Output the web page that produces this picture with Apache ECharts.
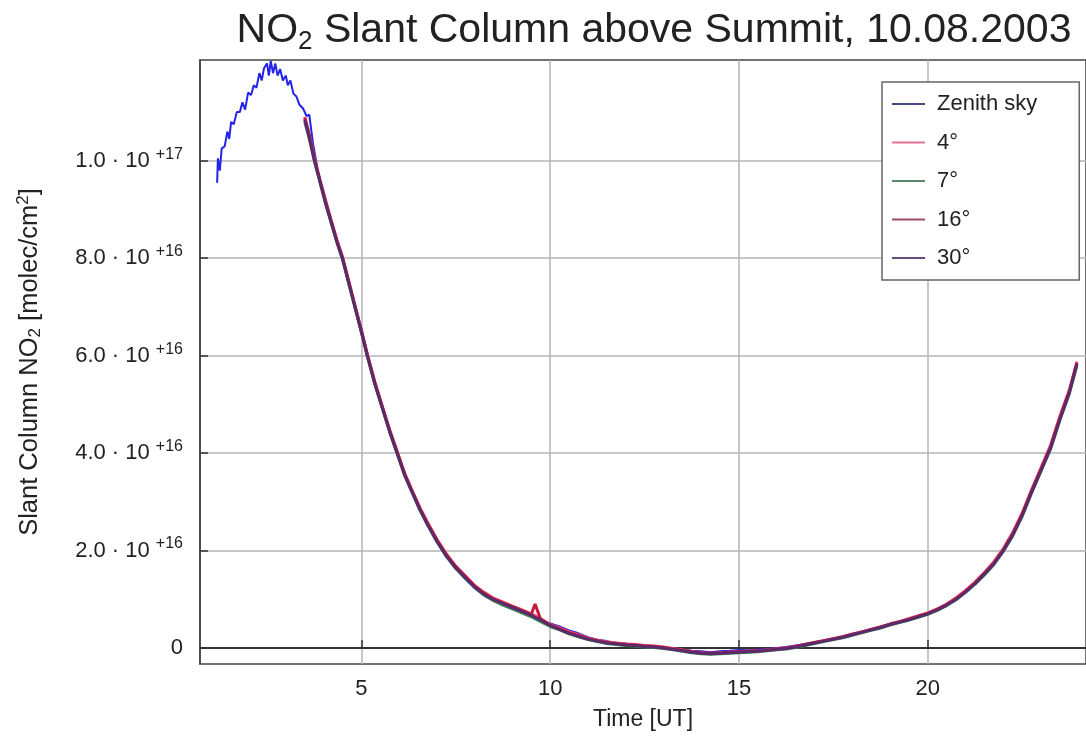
<!DOCTYPE html>
<html>
<head>
<meta charset="utf-8">
<script src="https://cdn.jsdelivr.net/npm/echarts@6/dist/echarts.min.js"></script>
<style>html,body{margin:0;padding:0;background:#fff}#c{width:1086px;height:739px}</style>
</head>
<body>
<div id="c"></div>
<script>
// values in units of 1e16 molec/cm2, time in hours UT
const seriesNames = ['Zenith sky', '4°', '7°', '16°', '30°'];
const xTicks = [5, 10, 15, 20];
const yTicks = [0, 2, 4, 6, 8, 10];

const tZenith = [1.18,1.2,1.25,1.3,1.38,1.45,1.5,1.55,1.62,1.7,1.78,1.85,1.92,2.0,2.08,2.15,2.22,2.3,2.36,2.42,2.5,2.55,2.6,2.66,2.72,2.78,2.85,2.92,3.0,3.05,3.12,3.2,3.28,3.36,3.45,3.55,3.62,3.72,3.85,
4.0,4.25,4.5,4.75,5.0,5.25,5.5,5.75,6.0,6.25,6.5,6.75,7.0,7.25,7.5,7.75,8.0,8.25,8.5,8.75,9.0,9.25,9.5,9.75,10.0,10.25,10.5,10.75,11.0,11.25,11.5,11.75,12.0,12.25,12.5,12.75,13.0,13.25,13.5,13.75,14.0,14.25,14.5,14.75,15.0,15.25,15.5,15.75,16.0,16.25,16.5,16.75,17.0,17.25,17.5,17.75,18.0,18.25,18.5,18.75,19.0,19.25,19.5,19.75,20.0,20.25,20.5,20.75,21.0,21.25,21.5,21.75,22.0,22.25,22.5,22.75,23.0,23.25,23.5,23.75,23.95];
const vZenith = [9.55,10.05,9.8,10.25,10.3,10.6,10.45,10.8,10.75,11.0,11.0,11.2,11.05,11.4,11.35,11.55,11.5,11.8,11.65,11.9,12.0,11.75,12.05,11.8,12.0,11.75,11.88,11.65,11.75,11.55,11.65,11.38,11.32,11.15,11.08,10.92,10.95,10.35,9.78,
9.3,8.62,7.98,7.25,6.47,5.72,5.05,4.43,3.88,3.38,2.93,2.53,2.19,1.88,1.64,1.42,1.23,1.09,0.97,0.88,0.8,0.73,0.65,0.58,0.5,0.44,0.36,0.3,0.22,0.17,0.14,0.1,0.09,0.06,0.06,0.03,0.02,-0.01,-0.03,-0.06,-0.07,-0.09,-0.07,-0.06,-0.04,-0.05,-0.03,-0.02,0.0,0.02,0.05,0.08,0.11,0.15,0.19,0.22,0.27,0.31,0.36,0.41,0.47,0.52,0.57,0.63,0.69,0.77,0.87,0.99,1.14,1.31,1.51,1.72,1.99,2.31,2.71,3.19,3.64,4.09,4.69,5.24,5.82];

const tElev = [3.5,3.62,3.76,3.9,4.05,4.2,4.35,4.5,4.65,4.8,5.0,5.16,5.35,5.55,5.75,5.95,6.15,6.35,6.55,6.75,7.0,7.25,7.5,7.75,8.0,8.25,8.5,8.75,9.0,9.25,9.5,9.6,9.75,10.0,10.25,10.5,10.75,11.0,11.25,11.5,11.75,12.0,12.25,12.5,12.75,13.0,13.25,13.5,13.75,14.0,14.25,14.5,14.75,15.0,15.25,15.5,15.75,16.0,16.25,16.5,16.75,17.0,17.25,17.5,17.75,18.0,18.25,18.5,18.75,19.0,19.25,19.5,19.75,20.0,20.25,20.5,20.75,21.0,21.25,21.5,21.75,22.0,22.25,22.5,22.75,23.0,23.25,23.5,23.75,23.95];
const v4 = [10.9,10.55,10.05,9.62,9.2,8.78,8.38,8.03,7.58,7.12,6.53,6.02,5.48,4.97,4.48,4.03,3.58,3.22,2.88,2.58,2.23,1.93,1.68,1.48,1.28,1.14,1.02,0.94,0.86,0.78,0.7,0.66,0.6,0.48,0.41,0.33,0.27,0.2,0.16,0.12,0.1,0.08,0.07,0.05,0.04,0.02,-0.01,-0.04,-0.08,-0.1,-0.12,-0.1,-0.09,-0.08,-0.07,-0.06,-0.04,-0.02,0.0,0.03,0.07,0.11,0.15,0.19,0.23,0.28,0.33,0.38,0.43,0.49,0.54,0.6,0.66,0.72,0.8,0.9,1.03,1.18,1.35,1.55,1.77,2.04,2.37,2.77,3.25,3.7,4.16,4.76,5.3,5.88];
const v7 = [10.8,10.45,9.98,9.57,9.12,8.72,8.33,7.98,7.52,7.08,6.48,5.98,5.43,4.93,4.43,3.98,3.53,3.18,2.83,2.53,2.18,1.88,1.63,1.43,1.24,1.08,0.97,0.88,0.8,0.72,0.64,0.6,0.54,0.44,0.37,0.29,0.23,0.17,0.13,0.09,0.07,0.05,0.04,0.02,0.01,-0.01,-0.04,-0.07,-0.1,-0.12,-0.13,-0.12,-0.11,-0.1,-0.09,-0.08,-0.06,-0.04,-0.02,0.01,0.05,0.09,0.13,0.17,0.21,0.26,0.31,0.36,0.41,0.47,0.52,0.57,0.63,0.69,0.77,0.87,0.99,1.14,1.31,1.5,1.71,1.98,2.3,2.7,3.18,3.63,4.08,4.68,5.22,5.8];
const v16 = [10.88,10.52,10.02,9.6,9.16,8.76,8.36,8.01,7.56,7.11,6.51,6.01,5.46,4.96,4.46,4.01,3.56,3.21,2.86,2.56,2.21,1.91,1.67,1.47,1.27,1.12,1.0,0.93,0.85,0.77,0.69,0.9,0.58,0.47,0.39,0.31,0.25,0.19,0.15,0.11,0.09,0.07,0.06,0.04,0.03,0.01,-0.02,-0.05,-0.08,-0.1,-0.11,-0.1,-0.09,-0.08,-0.07,-0.06,-0.04,-0.02,0.0,0.03,0.07,0.11,0.15,0.19,0.23,0.28,0.33,0.38,0.43,0.49,0.54,0.59,0.65,0.71,0.79,0.89,1.01,1.16,1.33,1.53,1.74,2.01,2.34,2.74,3.22,3.67,4.12,4.72,5.27,5.85];
const v30 = [10.84,10.49,10.0,9.59,9.14,8.74,8.34,7.99,7.54,7.09,6.49,5.99,5.44,4.94,4.44,3.99,3.54,3.19,2.84,2.54,2.19,1.89,1.64,1.44,1.25,1.1,0.99,0.91,0.83,0.75,0.67,0.63,0.57,0.46,0.38,0.3,0.24,0.18,0.14,0.1,0.08,0.06,0.05,0.03,0.02,0.0,-0.03,-0.06,-0.09,-0.11,-0.12,-0.11,-0.1,-0.09,-0.08,-0.07,-0.05,-0.03,-0.01,0.02,0.06,0.1,0.14,0.18,0.22,0.27,0.32,0.37,0.42,0.48,0.53,0.58,0.64,0.7,0.78,0.88,1.0,1.15,1.32,1.52,1.73,2.0,2.32,2.72,3.2,3.65,4.1,4.7,5.25,5.83];

const colors = ['#2424e8', '#ff4060', '#3c8a52', '#c81840', '#5a2a6a'];
const legendColors = ['#4a4a80', '#e87090', '#5a8a6a', '#a04a6a', '#6a4a7a'];
const FONT = 'Liberation Sans';

function zip(t, v) { return t.map((x, i) => [x, v[i]]); }
const valueSets = [[tZenith, vZenith], [tElev, v4], [tElev, v7], [tElev, v16], [tElev, v30]];

const series = valueSets.map((tv, i) => ({
  name: seriesNames[i],
  type: 'line',
  data: zip(tv[0], tv[1]),
  showSymbol: false,
  symbol: 'none',
  lineStyle: { color: colors[i], width: i === 0 ? 2 : 3 },
  itemStyle: { color: legendColors[i] },
  z: 3 + i,
  animation: false
}));
series[0].markLine = {
  silent: true, symbol: 'none', label: { show: false },
  lineStyle: { color: '#333', width: 2, type: 'solid' },
  data: [{ yAxis: 0 }], z: 2
};

function yLabel(v) {
  if (Math.abs(v) < 1e-9) return '{a|0}';
  if (v >= 10) return '{a|' + (v / 10).toFixed(1) + ' · 10 }{s|+17}';
  return '{a|' + v.toFixed(1) + ' · 10 }{s|+16}';
}

const chart = echarts.init(document.getElementById('c'), null, { renderer: 'canvas' });
chart.setOption({
  backgroundColor: '#fff',
  animation: false,
  title: {
    text: '{a|NO}{b|2}{a| Slant Column above Summit, 10.08.2003}',
    left: 649, top: 3, textAlign: 'center',
    textStyle: {
      fontWeight: 'normal',
      rich: {
        a: { fontFamily: FONT, fontSize: 41, fontWeight: 'normal', color: '#222', lineHeight: 46 },
        b: { fontFamily: FONT, fontSize: 26, fontWeight: 'normal', color: '#222', padding: [21, 0, 0, 0], lineHeight: 46 }
      }
    }
  },
  legend: {
    orient: 'vertical',
    left: 882, top: 82,
    backgroundColor: '#fff',
    borderColor: '#666', borderWidth: 1.5, borderRadius: 0,
    padding: [11, 42, 11, 10],
    itemGap: 16.5,
    itemWidth: 33, itemHeight: 2,
    icon: 'rect',
    textStyle: { fontFamily: FONT, fontSize: 22, color: '#222', lineHeight: 20, padding: [0, 0, 0, 7] },
    data: seriesNames
  },
  grid: {
    left: 200, top: 60, right: -3, bottom: 75,
    show: true, borderColor: '#444', borderWidth: 1.5, backgroundColor: '#fff'
  },
  xAxis: {
    type: 'value', min: 0.726, max: 24.19,
    name: 'Time [UT]', nameLocation: 'middle', nameGap: 44,
    nameTextStyle: { fontFamily: FONT, fontSize: 23, color: '#222' },
    axisLine: { show: true, lineStyle: { color: '#444', width: 1.5 } },
    axisTick: { show: true, inside: true, length: 8, customValues: xTicks, lineStyle: { color: '#333', width: 1.5 } },
    axisLabel: { customValues: xTicks, margin: 14, fontFamily: FONT, fontSize: 22, color: '#222' },
    splitLine: { show: true, lineStyle: { color: '#b4b4b4', width: 1.5 } }
  },
  yAxis: {
    type: 'value', min: -0.33, max: 12.07,
    name: '{a|Slant Column NO}{b|2}{a| [molec/cm}{c|2}{a|]}', nameLocation: 'middle', nameGap: 156,
    nameTextStyle: {
      rich: {
        a: { fontFamily: FONT, fontSize: 25.5, color: '#222' },
        b: { fontFamily: FONT, fontSize: 17, color: '#222', padding: [12, 0, 0, 0] },
        c: { fontFamily: FONT, fontSize: 17, color: '#222', padding: [0, 0, 12, 0] }
      }
    },
    axisLine: { show: true, lineStyle: { color: '#444', width: 1.5 } },
    axisTick: { show: true, inside: true, length: 8, customValues: yTicks, lineStyle: { color: '#333', width: 1.5 } },
    axisLabel: {
      customValues: yTicks, margin: 17, formatter: yLabel,
      rich: {
        a: { fontFamily: FONT, fontSize: 22, color: '#222' },
        s: { fontFamily: FONT, fontSize: 16, color: '#222', padding: [0, 0, 13, 0] }
      }
    },
    splitLine: { show: true, lineStyle: { color: '#b4b4b4', width: 1.5 } }
  },
  series: series
});
</script>
</body>
</html>
